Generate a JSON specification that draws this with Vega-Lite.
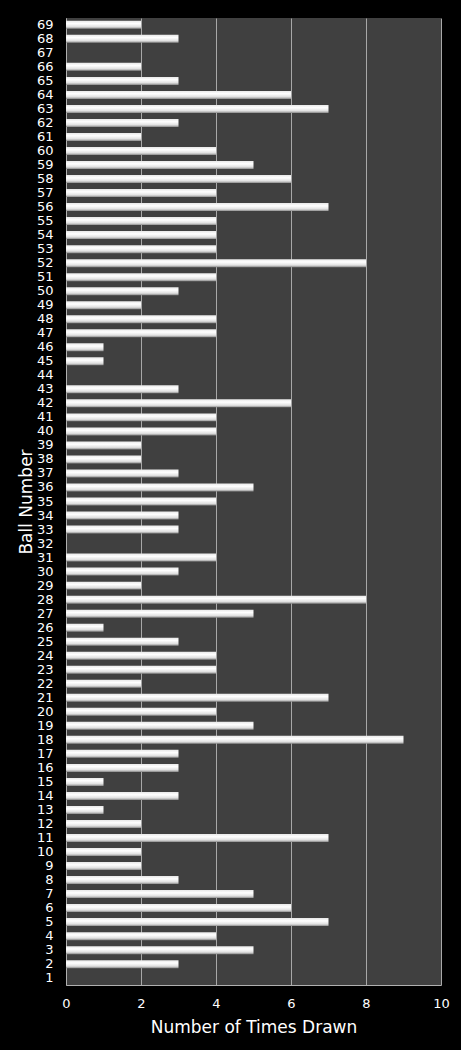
{
  "$schema": "https://vega.github.io/schema/vega-lite/v6.json",
  "width": 375,
  "height": 967,
  "autosize": {"type": "none"},
  "padding": {"left": 66, "top": 18, "right": 20, "bottom": 65},
  "background": "#000000",
  "data": {
    "values": [
      {"ball": 1, "drawn": 0}, {"ball": 2, "drawn": 3}, {"ball": 3, "drawn": 5},
      {"ball": 4, "drawn": 4}, {"ball": 5, "drawn": 7}, {"ball": 6, "drawn": 6},
      {"ball": 7, "drawn": 5}, {"ball": 8, "drawn": 3}, {"ball": 9, "drawn": 2},
      {"ball": 10, "drawn": 2}, {"ball": 11, "drawn": 7}, {"ball": 12, "drawn": 2},
      {"ball": 13, "drawn": 1}, {"ball": 14, "drawn": 3}, {"ball": 15, "drawn": 1},
      {"ball": 16, "drawn": 3}, {"ball": 17, "drawn": 3}, {"ball": 18, "drawn": 9},
      {"ball": 19, "drawn": 5}, {"ball": 20, "drawn": 4}, {"ball": 21, "drawn": 7},
      {"ball": 22, "drawn": 2}, {"ball": 23, "drawn": 4}, {"ball": 24, "drawn": 4},
      {"ball": 25, "drawn": 3}, {"ball": 26, "drawn": 1}, {"ball": 27, "drawn": 5},
      {"ball": 28, "drawn": 8}, {"ball": 29, "drawn": 2}, {"ball": 30, "drawn": 3},
      {"ball": 31, "drawn": 4}, {"ball": 32, "drawn": 0}, {"ball": 33, "drawn": 3},
      {"ball": 34, "drawn": 3}, {"ball": 35, "drawn": 4}, {"ball": 36, "drawn": 5},
      {"ball": 37, "drawn": 3}, {"ball": 38, "drawn": 2}, {"ball": 39, "drawn": 2},
      {"ball": 40, "drawn": 4}, {"ball": 41, "drawn": 4}, {"ball": 42, "drawn": 6},
      {"ball": 43, "drawn": 3}, {"ball": 44, "drawn": 0}, {"ball": 45, "drawn": 1},
      {"ball": 46, "drawn": 1}, {"ball": 47, "drawn": 4}, {"ball": 48, "drawn": 4},
      {"ball": 49, "drawn": 2}, {"ball": 50, "drawn": 3}, {"ball": 51, "drawn": 4},
      {"ball": 52, "drawn": 8}, {"ball": 53, "drawn": 4}, {"ball": 54, "drawn": 4},
      {"ball": 55, "drawn": 4}, {"ball": 56, "drawn": 7}, {"ball": 57, "drawn": 4},
      {"ball": 58, "drawn": 6}, {"ball": 59, "drawn": 5}, {"ball": 60, "drawn": 4},
      {"ball": 61, "drawn": 2}, {"ball": 62, "drawn": 3}, {"ball": 63, "drawn": 7},
      {"ball": 64, "drawn": 6}, {"ball": 65, "drawn": 3}, {"ball": 66, "drawn": 2},
      {"ball": 67, "drawn": 0}, {"ball": 68, "drawn": 3}, {"ball": 69, "drawn": 2}
    ]
  },
  "mark": {
    "type": "bar",
    "fill": {
      "gradient": "linear",
      "x1": 0, "y1": 0, "x2": 0, "y2": 1,
      "stops": [
        {"offset": 0, "color": "#e8e8e8"},
        {"offset": 0.35, "color": "#ffffff"},
        {"offset": 0.75, "color": "#e0e0e0"},
        {"offset": 1, "color": "#8a8a8a"}
      ]
    }
  },
  "encoding": {
    "y": {
      "field": "ball",
      "type": "ordinal",
      "sort": "descending",
      "scale": {"paddingInner": 0.43, "paddingOuter": 0.2},
      "axis": {
        "title": "Ball Number",
        "titleColor": "#ffffff",
        "titleFont": "DejaVu Sans",
        "titleFontSize": 17,
        "titleFontWeight": "normal",
        "titlePadding": 1,
        "labelColor": "#ffffff",
        "labelFont": "DejaVu Sans",
        "labelFontSize": 13,
        "labelPadding": 13,
        "ticks": false,
        "domainColor": "#b0b0b0",
        "grid": false
      }
    },
    "x": {
      "field": "drawn",
      "type": "quantitative",
      "scale": {"domain": [0, 10]},
      "axis": {
        "title": "Number of Times Drawn",
        "values": [0, 2, 4, 6, 8, 10],
        "titleColor": "#ffffff",
        "titleFont": "DejaVu Sans",
        "titleFontSize": 17,
        "titleFontWeight": "normal",
        "titlePadding": 9,
        "labelColor": "#ffffff",
        "labelFont": "DejaVu Sans",
        "labelFontSize": 13,
        "labelPadding": 12,
        "labelFlush": false,
        "ticks": false,
        "domainColor": "#b0b0b0",
        "grid": true,
        "gridColor": "#a8a8a8",
        "gridWidth": 1
      }
    }
  },
  "config": {
    "view": {"fill": "#404040", "stroke": null}
  }
}
